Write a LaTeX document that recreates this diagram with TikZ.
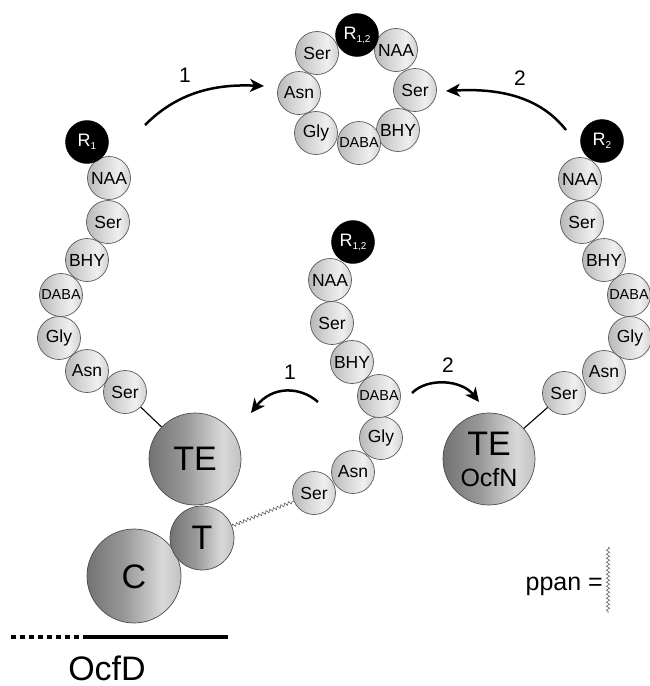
\documentclass[tikz,border=0pt]{standalone}
\usepackage{fontspec}
\setmainfont{Liberation Sans}
\usetikzlibrary{decorations.pathmorphing,arrows.meta}
\pgfdeclarehorizontalshading{smallball}{100bp}{color(0bp)=(black!28); color(25bp)=(black!28); color(40bp)=(black!18); color(62bp)=(black!6); color(75bp)=(black!18); color(100bp)=(black!18)}
\pgfdeclarehorizontalshading{bigball}{100bp}{color(0bp)=(black!55); color(25bp)=(black!55); color(45bp)=(black!40); color(65bp)=(black!15); color(75bp)=(black!24); color(100bp)=(black!24)}
\newcommand{\Rsub}[1]{R\raisebox{-3pt}{\fontsize{10}{10}\selectfont #1}}
\begin{document}
\begin{tikzpicture}[x=1pt,y=-1pt,
 aa/.style={circle, draw=black!65, line width=0.7pt, minimum size=43pt, inner sep=0pt, shade, shading=smallball, font=\fontsize{17.5}{17.5}\selectfont},
 da/.style={aa, font=\fontsize{14.5}{14.5}\selectfont},
 rr/.style={circle, fill=black, draw=black, minimum size=43pt, inner sep=0pt, text=white, font=\fontsize{18}{18}\selectfont},
 big/.style={circle, draw=black!70, line width=0.7pt, inner sep=0pt, shade, shading=bigball},
 bigtxt/.style={inner sep=0pt, font=\fontsize{34}{34}\selectfont},
 arr/.style={line width=2.5pt, -{Stealth[length=14pt,width=13pt,inset=4pt]}},
 num/.style={inner sep=0pt, font=\fontsize{21}{21}\selectfont},
 link/.style={line width=1.1pt},
 pp/.style={draw=black!70, line width=0.5pt, decorate, decoration={snake, amplitude=1.6pt, segment length=4pt}}
]
\useasboundingbox (0,0) rectangle (649,686);

% top ring
\node[aa] (tS1) at (317,53) {Ser};
\node[aa] (tNAA) at (396,50) {NAA};
\node[aa] (tS2) at (415,90) {Ser};
\node[aa] (tBHY) at (398,130) {BHY};
\node[da] (tDABA) at (359,143) {DABA};
\node[aa] (tGly) at (316,133) {Gly};
\node[aa] (tAsn) at (299,93) {Asn};
\node[rr] (tR) at (357,35) {\Rsub{1,2}};

% left chain
\node[aa] (lS8) at (125,392) {Ser};
\node[aa] (lAsn) at (87,371) {Asn};
\node[aa] (lGly) at (59,338) {Gly};
\node[da] (lDABA) at (61,295) {DABA};
\node[aa] (lBHY) at (87,260) {BHY};
\node[aa] (lSer) at (108,222) {Ser};
\node[aa] (lNAA) at (109,178) {NAA};
\node[rr] (lR) at (87,142) {\Rsub{1}};

% right chain
\node[aa] (rS8) at (564,393) {Ser};
\node[aa] (rAsn) at (604,372) {Asn};
\node[aa] (rGly) at (630,338) {Gly};
\node[da] (rDABA) at (629,295) {DABA};
\node[aa] (rBHY) at (604,260) {BHY};
\node[aa] (rSer) at (582,222) {Ser};
\node[aa] (rNAA) at (580,179) {NAA};
\node[rr] (rR) at (602,141) {\Rsub{2}};

% middle chain
\node[aa] (mS8) at (314,493) {Ser};
\node[aa] (mAsn) at (353,472) {Asn};
\node[aa] (mGly) at (381,438) {Gly};
\node[da] (mDABA) at (379,396) {DABA};
\node[aa] (mBHY) at (352,362) {BHY};
\node[aa] (mSer) at (332,323) {Ser};
\node[aa] (mNAA) at (330,280) {NAA};
\node[rr] (mR) at (353,242) {\Rsub{1,2}};

% big domains
\node[big, minimum size=92pt] (TE) at (195,459) {};
\node[bigtxt] (TEt) at (195,459) {TE};
\node[big, minimum size=94pt] (C) at (134,576) {};
\node[bigtxt] (Ct) at (134,577) {C};
\node[big, minimum size=64pt] (T) at (202,538) {};
\node[bigtxt] (Tt) at (202,538) {T};
\node[big, minimum size=92pt] (N) at (489,459) {};
\node[bigtxt] (Nt1) at (489,444) {TE};
\node[inner sep=0pt, font=\fontsize{25}{25}\selectfont] (Nt2) at (489,478) {OcfN};

% links
\draw[link] (lS8) -- (TE);
\draw[link] (rS8) -- (N);
\draw[pp] (T) -- (mS8);

% arrows
\coordinate (a1s) at (145,125); \coordinate (a1e) at (264,86);
\draw[arr] (a1s) .. controls (178,92) and (215,84) .. (a1e);
\node[num] (n1a) at (185,75) {1};
\coordinate (a2s) at (566,130); \coordinate (a2e) at (446,91);
\draw[arr] (a2s) .. controls (540,97) and (500,88) .. (a2e);
\node[num] (n2a) at (520,78) {2};
\coordinate (a3s) at (318,402); \coordinate (a3e) at (251,413);
\draw[arr] (a3s) .. controls (300,386) and (272,386) .. (a3e);
\node[num] (n1b) at (290,372) {1};
\coordinate (a4s) at (412,393); \coordinate (a4e) at (479,402);
\draw[arr] (a4s) .. controls (428,377) and (462,380) .. (a4e);
\node[num] (n2b) at (448,365) {2};

% OcfD line
\coordinate (d0) at (11,637); \coordinate (d1) at (86,637); \coordinate (d2) at (228,637);
\draw[line width=4pt, dash pattern=on 4.5pt off 4.5pt] (d0) -- (d1);
\draw[line width=4pt] (d1) -- (d2);
\node[inner sep=0pt, anchor=base, font=\fontsize{34}{34}\selectfont] (ocfd) at (107,680) {OcfD};

% legend
\node[inner sep=0pt, anchor=base east, font=\fontsize{25}{25}\selectfont] (ppan) at (603,590) {ppan =};
\coordinate (pa) at (608,547); \coordinate (pb) at (608,613);
\draw[pp] (pa) -- (pb);
\end{tikzpicture}
\end{document}
